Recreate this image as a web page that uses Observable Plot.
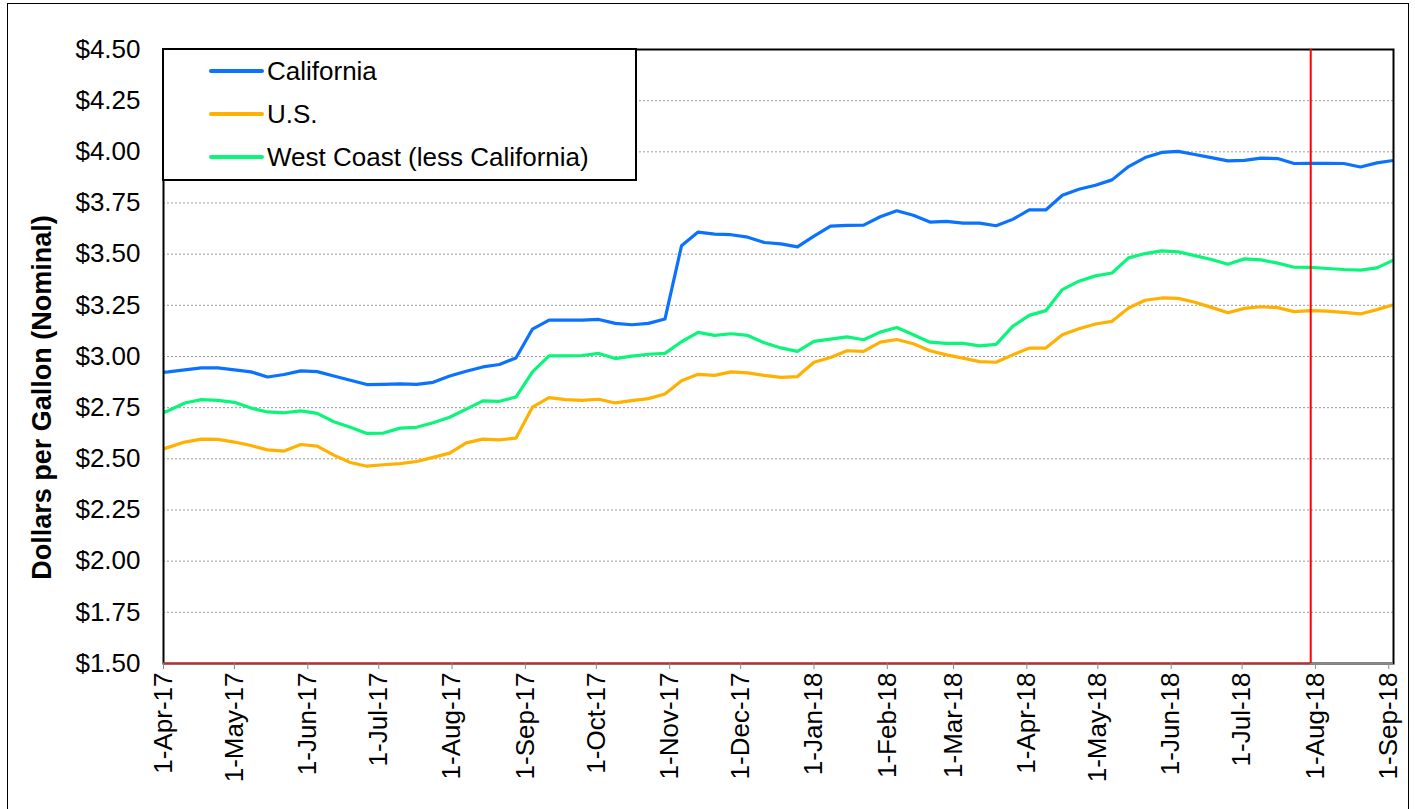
<!DOCTYPE html>
<html><head><meta charset="utf-8">
<script src="https://cdn.jsdelivr.net/npm/d3@7"></script>
<script src="https://cdn.jsdelivr.net/npm/@observablehq/plot@0.6"></script>
<style>
html,body{margin:0;padding:0;background:#fff;overflow:hidden;}
#wrap{position:relative;width:1415px;height:809px;font-family:"Liberation Sans",Arial,sans-serif;}
#chart{position:absolute;left:0;top:0;}
#border{position:absolute;left:7px;top:3px;width:1402px;height:900px;border:1.5px solid #000;box-sizing:border-box;pointer-events:none;}
#legend{position:absolute;left:162px;top:48px;width:475px;height:133px;border:2.5px solid #000;background:#fff;box-sizing:border-box;}
.row{position:absolute;left:0;height:0;width:100%;}
.sw{position:absolute;left:45px;width:55px;height:4px;margin-top:-2px;border-radius:2px;}
.lbl{position:absolute;left:103px;white-space:nowrap;font-size:26px;line-height:30px;margin-top:-15px;color:#000;}
</style></head><body>
<div id="wrap"><div id="chart"></div><div id="border"></div><div id="legend"></div></div>
<script>
// ---- data (weekly retail prices, $/gal), first week 27-Mar-17 lies just left of the axis ----
const seriesNames = ["California", "U.S.", "West Coast (less California)"];
const seriesColors = ["#0a72ff", "#ffb000", "#0af57a"];

const california = [
  2.918, 2.925, 2.935, 2.944, 2.944, 2.935, 2.925, 2.900, 2.912, 2.930, 2.926,
  2.905, 2.884, 2.863, 2.864, 2.866, 2.864, 2.874, 2.905, 2.928,
  2.949, 2.961, 2.993, 3.134, 3.178, 3.178, 3.178, 3.181, 3.162, 3.155, 3.162,
  3.183, 3.541, 3.608, 3.598, 3.595, 3.583, 3.557, 3.550,
  3.536, 3.588, 3.637, 3.641, 3.642, 3.683, 3.712, 3.690, 3.657, 3.660,
  3.652, 3.652, 3.639, 3.670, 3.716, 3.716, 3.788, 3.817, 3.837,
  3.863, 3.928, 3.972, 3.997, 4.002, 3.987, 3.972, 3.956, 3.958, 3.969,
  3.967, 3.943, 3.944, 3.944, 3.943, 3.926, 3.946, 3.958
];
const us = [
  2.531, 2.556, 2.582, 2.596, 2.595, 2.582, 2.565, 2.544, 2.538, 2.570, 2.562,
  2.518, 2.482, 2.464, 2.471, 2.477, 2.487, 2.507, 2.528, 2.578,
  2.596, 2.593, 2.601, 2.753, 2.799, 2.789, 2.786, 2.791, 2.773, 2.784, 2.794,
  2.817, 2.881, 2.913, 2.908, 2.925, 2.920, 2.908, 2.898,
  2.902, 2.972, 2.995, 3.028, 3.025, 3.070, 3.083, 3.062, 3.028, 3.008,
  2.992, 2.975, 2.972, 3.008, 3.041, 3.041, 3.106, 3.136, 3.159,
  3.172, 3.237, 3.275, 3.286, 3.284, 3.265, 3.240, 3.214, 3.235, 3.243,
  3.239, 3.219, 3.224, 3.222, 3.216, 3.208, 3.229, 3.253
];
const westCoast = [
  2.703, 2.735, 2.773, 2.789, 2.786, 2.776, 2.748, 2.729, 2.725, 2.734, 2.722,
  2.681, 2.654, 2.624, 2.626, 2.650, 2.654, 2.676, 2.703, 2.743,
  2.783, 2.781, 2.802, 2.925, 3.003, 3.003, 3.005, 3.015, 2.990, 3.002, 3.011,
  3.015, 3.072, 3.118, 3.103, 3.111, 3.103, 3.067, 3.042,
  3.025, 3.074, 3.085, 3.096, 3.082, 3.119, 3.142, 3.106, 3.070, 3.064,
  3.064, 3.052, 3.059, 3.147, 3.201, 3.224, 3.327, 3.368, 3.394,
  3.408, 3.482, 3.503, 3.516, 3.511, 3.493, 3.474, 3.451, 3.477, 3.472,
  3.456, 3.436, 3.435, 3.430, 3.425, 3.422, 3.433, 3.471
];
const yTickValues = [1.5, 1.75, 2.0, 2.25, 2.5, 2.75, 3.0, 3.25, 3.5, 3.75, 4.0, 4.25, 4.5];
const gridValues = [1.75, 2.0, 2.25, 2.5, 2.75, 3.0, 3.25, 3.5, 3.75, 4.0, 4.25];
const yTitle = "Dollars per Gallon (Nominal)";
const firstWeek = "2017-03-27";
const axisStart = "2017-04-01";
const axisEnd = "2018-09-03";
const markerDay = "2018-07-30";

// ---- build ----
const seriesValues = [california, us, westCoast];
const start = new Date(firstWeek + "T00:00:00Z");
const dates = california.map((_, i) => d3.utcDay.offset(start, 7 * i));
const rows = [];
seriesNames.forEach((name, s) => seriesValues[s].forEach((v, i) => rows.push({date: dates[i], price: v, series: name})));
const xDomain = [new Date(axisStart + "T00:00:00Z"), new Date(axisEnd + "T00:00:00Z")];
const monthTicks = d3.utcMonth.range(xDomain[0], d3.utcDay.offset(xDomain[1], -1));
const markerDate = new Date(markerDay + "T00:00:00Z");

const chart = Plot.plot({
  width: 1415, height: 809,
  marginLeft: 163, marginRight: 22, marginTop: 49, marginBottom: 146,
  style: {fontFamily: "'Liberation Sans', Arial, sans-serif", fontSize: "26px", color: "black", background: "white", overflow: "visible"},
  x: {type: "utc", domain: xDomain},
  y: {domain: [1.5, 4.5]},
  color: {domain: seriesNames, range: seriesColors},
  marks: [
    Plot.gridY(gridValues, {stroke: "#9a9a9a", strokeOpacity: 1, strokeDasharray: "2,2", strokeWidth: 1}),
    Plot.line(rows, {x: "date", y: "price", z: "series", stroke: "series", strokeWidth: 3.2, clip: true}),
    Plot.frame({stroke: "black", strokeWidth: 2}),
    Plot.ruleY([1.5], {stroke: "#888", strokeWidth: 2}),
    Plot.ruleY([{y: 1.5, x1: xDomain[0], x2: markerDate}], {y: "y", x1: "x1", x2: "x2", stroke: "#e02020", strokeWidth: 1.5}),
    Plot.ruleX([markerDate], {stroke: "red", strokeWidth: 2}),
    Plot.axisY({ticks: yTickValues, tickFormat: d => "$" + d.toFixed(2), tickSize: 0, tickPadding: 23, label: null}),
    Plot.axisX({ticks: monthTicks, tickFormat: d3.utcFormat("%-d-%b-%y"), tickRotate: -90, tickSize: 6, tickPadding: 3, stroke: "#888", fill: "black", label: null}),
    Plot.text([yTitle], {frameAnchor: "left", textAnchor: "middle", dx: -121, dy: 41, rotate: -90, fontWeight: "bold", fontSize: 27, text: d => d})
  ]
});
document.getElementById("chart").appendChild(chart);

// ---- legend ----
const legend = document.getElementById("legend");
const rowY = [21, 64, 107];
seriesNames.forEach((name, i) => {
  const r = document.createElement("div");
  r.className = "row";
  r.style.top = rowY[i] + "px";
  const sw = document.createElement("div");
  sw.className = "sw";
  sw.style.background = seriesColors[i];
  const lb = document.createElement("div");
  lb.className = "lbl";
  lb.textContent = name;
  r.appendChild(sw); r.appendChild(lb);
  legend.appendChild(r);
});
</script>
</body></html>
